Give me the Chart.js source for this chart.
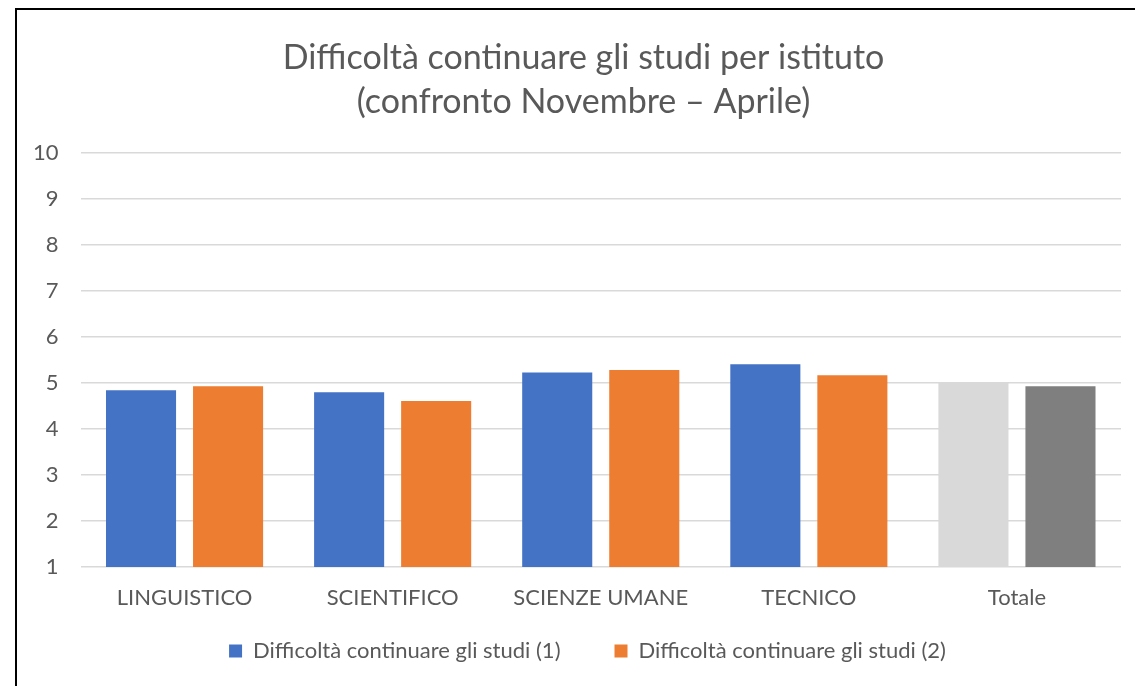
<!DOCTYPE html>
<html>
<head>
<meta charset="utf-8">
<script src="https://cdn.jsdelivr.net/npm/chart.js@4/dist/chart.umd.min.js"></script>
<style>
  html, body { margin: 0; padding: 0; background: #ffffff; }
  #wrap { position: relative; width: 1135px; height: 686px; overflow: hidden; }
  #frame { position: absolute; left: 15px; top: 8px; right: -4px; bottom: -4px;
           border-left: 2px solid #000; border-top: 2px solid #000; pointer-events: none; }
  canvas { position: absolute; left: 0; top: 0; }
</style>
</head>
<body>
<div id="wrap">
  <canvas id="c" width="1135" height="686"></canvas>
  <div id="frame"></div>
</div>
<script>
const titleLines = ["Difficoltà continuare gli studi per istituto", "(confronto Novembre – Aprile)"];
const categories = ["LINGUISTICO", "SCIENTIFICO", "SCIENZE UMANE", "TECNICO", "Totale"];
const seriesNames = ["Difficoltà continuare gli studi (1)", "Difficoltà continuare gli studi (2)"];
const series1 = [4.84, 4.80, 5.23, 5.41, 5.01];
const series2 = [4.93, 4.61, 5.28, 5.17, 4.93];
const yMin = 1;
const yMax = 10;
const yStep = 1;

const FONT = "Lato, 'Liberation Sans', sans-serif";
const TEXT = "#595959";
const totalIndex = categories.length - 1;

function colorFor(main, totalColor) {
  return (ctx) => (ctx.type === 'data' && ctx.dataIndex === totalIndex) ? totalColor : main;
}

// nudges the centred title / legend blocks sideways, as in the original layout
const centreShift = {
  id: 'centreShift',
  afterLayout(chart) {
    const t = chart.titleBlock, l = chart.legend;
    if (t) { t.left += 8; t.right += 8; }
    if (l) { l.left += 12; l.right += 12; }
  }
};

new Chart(document.getElementById('c'), {
  type: 'bar',
  data: {
    labels: categories,
    datasets: [
      { label: seriesNames[0], data: series1,
        backgroundColor: colorFor('#4472C4', '#D9D9D9'),
        categoryPercentage: 0.8365, barPercentage: 0.805 },
      { label: seriesNames[1], data: series2,
        backgroundColor: colorFor('#ED7D31', '#7F7F7F'),
        categoryPercentage: 0.8365, barPercentage: 0.805 }
    ]
  },
  plugins: [centreShift],
  options: {
    responsive: false,
    animation: false,
    devicePixelRatio: 1,
    layout: { padding: { left: 30, right: 14, top: 0, bottom: 14 } },
    plugins: {
      title: {
        display: true,
        text: titleLines,
        color: TEXT,
        font: { family: FONT, size: 34, weight: 'normal', lineHeight: 1.294 },
        padding: { top: 36, bottom: 29 }
      },
      legend: {
        position: 'bottom',
        labels: {
          color: TEXT,
          boxWidth: 13, boxHeight: 13,
          padding: 54,
          font: { family: FONT, size: 22 }
        }
      },
      tooltip: { enabled: false }
    },
    scales: {
      x: {
        grid: { display: false, drawTicks: false },
        border: { display: false },
        ticks: { color: TEXT, font: { family: FONT, size: 22 }, padding: -44, mirror: true, maxRotation: 0 },
        afterFit: (s) => { s.height = 19; }
      },
      y: {
        min: yMin, max: yMax,
        grid: { color: '#D9D9D9', lineWidth: 1.5, drawTicks: false },
        border: { display: false },
        ticks: { stepSize: yStep, color: TEXT, font: { family: FONT, size: 22 }, padding: 22 },
        afterFit: (s) => { s.width = 50.5; }
      }
    }
  }
});
</script>
</body>
</html>
